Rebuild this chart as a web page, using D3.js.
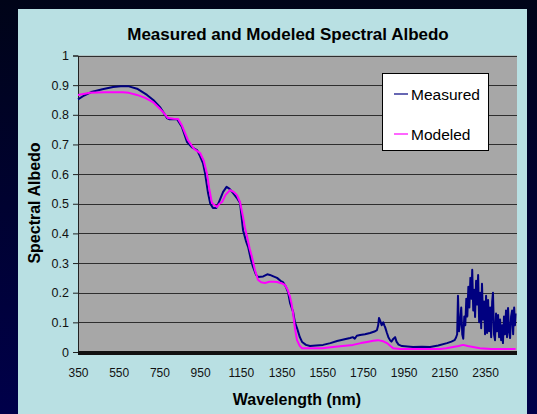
<!DOCTYPE html>
<html><head><meta charset="utf-8">
<script src="https://cdn.jsdelivr.net/npm/d3@7"></script>
<style>html,body{margin:0;padding:0;background:#000418;}svg{display:block;}</style>
</head><body>
<svg id="c" width="537" height="414"></svg>
<script>
// ---- data ----
const title = "Measured and Modeled Spectral Albedo";
const xTicks = [350,550,750,950,1150,1350,1550,1750,1950,2150,2350];
const yTicks = [0,0.1,0.2,0.3,0.4,0.5,0.6,0.7,0.8,0.9,1];
const seriesNames = ["Measured","Modeled"];
const measuredWl = [350,380,420,470,522,560,600,640,689,720,753,787,800,836,860,886,910,935,950,964,974,989,1000,1013,1030,1045,1063,1080,1095,1112,1130,1146,1161,1175,1186,1200,1210,1225,1235,1260,1280,1293,1310,1328,1345,1357,1370,1382,1392,1407,1416,1426,1440,1451,1470,1490,1520,1554,1590,1623,1660,1687,1700,1710,1720,1736,1760,1785,1810,1819,1825,1829,1835,1842,1850,1855,1859,1868,1875,1883,1890,1900,1908,1915,1925,1942,1996,2040,2080,2120,2163,2185,2200,2207,2213,2217,2222,2228,2233,2238,2243,2248,2253,2258,2263,2268,2273,2278,2283,2287,2292,2297,2301,2306,2311,2316,2321,2326,2331,2335,2340,2345,2350,2355,2360,2365,2370,2375,2380,2385,2389,2394,2399,2404,2409,2414,2419,2424,2429,2434,2438,2443,2448,2453,2458,2463,2468,2473,2478,2483,2488,2493,2497,2500];
const measuredVal = [0.852,0.865,0.878,0.886,0.894,0.896,0.896,0.888,0.867,0.85,0.826,0.789,0.785,0.786,0.76,0.708,0.69,0.681,0.66,0.637,0.604,0.536,0.50,0.486,0.486,0.51,0.54,0.557,0.55,0.536,0.52,0.503,0.411,0.375,0.354,0.31,0.287,0.26,0.253,0.255,0.262,0.26,0.255,0.25,0.24,0.236,0.222,0.202,0.165,0.135,0.10,0.081,0.05,0.034,0.024,0.02,0.022,0.024,0.03,0.037,0.043,0.047,0.05,0.045,0.055,0.057,0.06,0.064,0.07,0.074,0.09,0.115,0.105,0.09,0.10,0.09,0.084,0.064,0.05,0.04,0.035,0.045,0.05,0.035,0.025,0.02,0.017,0.018,0.017,0.022,0.03,0.035,0.04,0.048,0.06,0.19,0.07,0.10,0.15,0.06,0.045,0.12,0.09,0.18,0.12,0.22,0.15,0.25,0.18,0.277,0.14,0.21,0.118,0.24,0.16,0.26,0.10,0.20,0.08,0.23,0.11,0.17,0.06,0.19,0.064,0.175,0.07,0.15,0.05,0.17,0.20,0.06,0.04,0.13,0.07,0.125,0.05,0.11,0.04,0.09,0.03,0.12,0.06,0.14,0.05,0.148,0.07,0.047,0.12,0.14,0.06,0.15,0.09,0.13];
const modeledWl = [350,409,480,571,600,640,680,718,750,768,792,820,842,860,890,920,950,968,984,995,1008,1023,1033,1045,1058,1075,1097,1115,1131,1146,1161,1170,1181,1193,1205,1220,1235,1250,1269,1290,1310,1328,1350,1367,1380,1392,1400,1407,1416,1426,1440,1451,1500,1550,1603,1650,1701,1740,1770,1800,1824,1850,1868,1885,1898,1932,2000,2080,2129,2160,2193,2220,2242,2265,2291,2325,2380,2500];
const modeledVal = [0.867,0.874,0.876,0.876,0.874,0.867,0.857,0.843,0.822,0.809,0.789,0.787,0.786,0.765,0.715,0.685,0.671,0.645,0.60,0.55,0.503,0.494,0.489,0.50,0.506,0.53,0.546,0.54,0.529,0.506,0.455,0.42,0.388,0.35,0.32,0.275,0.243,0.235,0.233,0.237,0.237,0.236,0.232,0.226,0.21,0.186,0.16,0.13,0.08,0.04,0.02,0.013,0.013,0.013,0.017,0.02,0.024,0.03,0.034,0.038,0.04,0.036,0.03,0.02,0.013,0.01,0.01,0.01,0.01,0.013,0.017,0.02,0.024,0.02,0.017,0.013,0.01,0.01];

// ---- drawing ----
const svg = d3.select("#c");
const defs = svg.append("defs");
const grad = defs.append("linearGradient").attr("id","bg").attr("x1",0).attr("y1",0).attr("x2",0).attr("y2",1);
grad.append("stop").attr("offset","0%").attr("stop-color","#000418");
grad.append("stop").attr("offset","100%").attr("stop-color","#00004a");
svg.append("rect").attr("width",537).attr("height",414).attr("fill","url(#bg)");
// panel
svg.append("rect").attr("x",18).attr("y",9).attr("width",509).attr("height",405).attr("fill","#b9e0e3");

const L=78, R=517, T=55.5, B=352;
const x = d3.scaleLinear().domain([350,2507]).range([L,R]);
const y = d3.scaleLinear().domain([0,1]).range([B,T]);

svg.append("rect").attr("x",L).attr("y",T).attr("width",R-L).attr("height",B-T).attr("fill","#a7a7a7");

// gridlines
svg.append("g").selectAll("line").data(yTicks.filter(d=>d>0)).join("line")
  .attr("x1",L).attr("x2",R).attr("y1",d=>Math.round(y(d))+0.5).attr("y2",d=>Math.round(y(d))+0.5)
  .attr("stroke","#2e2e2e").attr("stroke-width",1.2);

// y axis
const yAxis = d3.axisLeft(y).tickValues(yTicks).tickSize(5).tickPadding(4).tickFormat(d=>d3.format("")(d));
const gy = svg.append("g").attr("transform",`translate(${L},0)`).call(yAxis);
gy.select(".domain").attr("stroke","#222");
gy.selectAll(".tick line").attr("stroke","#222");
gy.selectAll("text").attr("font-family","Liberation Sans, Arial, sans-serif").attr("font-size","12.5px").attr("fill","#111");

// x axis
const xAxis = d3.axisBottom(x).tickValues(xTicks).tickSize(0).tickPadding(16).tickFormat(d3.format("d"));
const gx = svg.append("g").attr("transform",`translate(0,${B})`).call(xAxis);
gx.select(".domain").remove();
gx.selectAll("text").attr("font-family","Liberation Sans, Arial, sans-serif").attr("font-size","12px").attr("fill","#111");
svg.append("rect").attr("x",L).attr("y",B-1).attr("width",R-L).attr("height",4).attr("fill","#111");

// lines
const line = d3.line().x(d=>x(d[0])).y(d=>y(d[1]));
const measured = measuredWl.map((w,i)=>[w,measuredVal[i]]);
const modeled = modeledWl.map((w,i)=>[w,modeledVal[i]]);
svg.append("path").datum(measured).attr("d",line).attr("fill","none").attr("stroke","#000080").attr("stroke-width",2).attr("stroke-linejoin","round");
svg.append("path").datum(modeled).attr("d",line).attr("fill","none").attr("stroke","#ff00ff").attr("stroke-width",2).attr("stroke-linejoin","round");

// title & axis titles
const ff = "Liberation Sans, Arial, sans-serif";
svg.append("text").attr("x",288).attr("y",40).attr("text-anchor","middle").attr("font-family",ff)
  .attr("font-weight","bold").attr("font-size","17px").attr("fill","#000").text(title);
svg.append("text").attr("transform","translate(40,203) rotate(-90)").attr("text-anchor","middle").attr("font-family",ff)
  .attr("font-weight","bold").attr("font-size","16px").attr("fill","#000").text("Spectral Albedo");
svg.append("text").attr("x",297).attr("y",405).attr("text-anchor","middle").attr("font-family",ff)
  .attr("font-weight","bold").attr("font-size","16px").attr("fill","#000").text("Wavelength (nm)");

// legend
const lg = svg.append("g");
lg.append("rect").attr("x",382.5).attr("y",73.5).attr("width",106).attr("height",77).attr("fill","#fff").attr("stroke","#000").attr("stroke-width",1);
const colors = ["#000080","#ff00ff"];
seriesNames.forEach((n,i)=>{
  const yy = 94 + i*40;
  lg.append("line").attr("x1",394).attr("x2",408).attr("y1",yy).attr("y2",yy).attr("stroke",colors[i]).attr("stroke-width",1.2);
  lg.append("text").attr("x",411).attr("y",yy+6).attr("font-family",ff).attr("font-size","15.5px").attr("fill","#000").text(n);
});
</script>
</body></html>
